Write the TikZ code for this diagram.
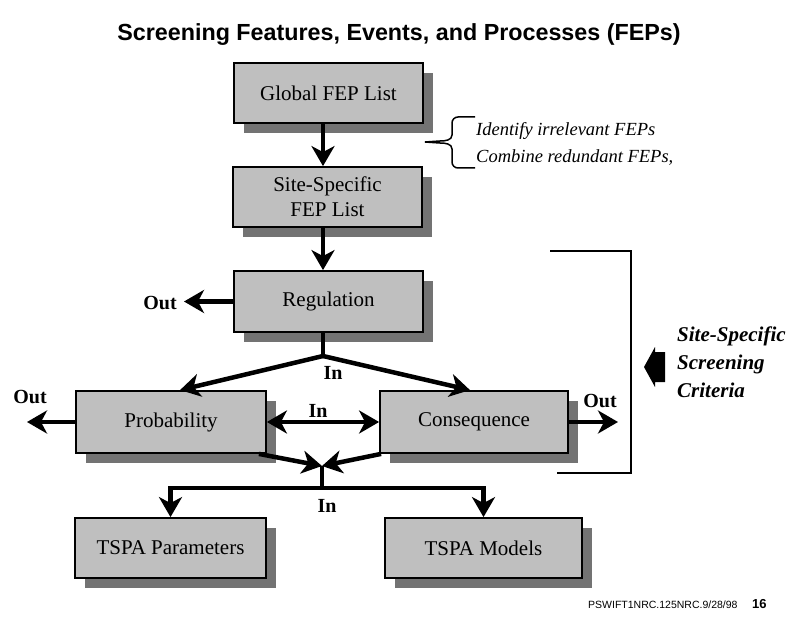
\documentclass[tikz,border=0pt]{standalone}
\usepackage{fontspec}
\setmainfont{Liberation Serif}
\newfontfamily\arialf{Liberation Sans}
\usetikzlibrary{arrows.meta,shadows}
\begin{document}
\begin{tikzpicture}[x=1pt,y=-1pt,
  box/.style={draw=black, line width=1.8pt, fill=black!25, minimum width=189pt, minimum height=60pt,
    inner sep=0pt, font=\fontsize{21}{25}\selectfont, align=center,
    drop shadow={shadow xshift=10pt, shadow yshift=-10pt, fill=black!55, opacity=1}},
  tipA/.tip={Stealth[length=20pt,width=23pt,inset=6pt]},
  arr/.style={line width=4.5pt, -tipA},
  ln/.style={line width=4.5pt},
  lab/.style={font=\bfseries\fontsize{20}{23}\selectfont, inner sep=0pt}]
\useasboundingbox (0,0) rectangle (793,623);

% title
\node[font=\arialf\bfseries\fontsize{23.3}{28}\selectfont, anchor=base, inner sep=0pt] (title) at (399,41)
  {Screening Features, Events, and Processes (FEPs)};

% boxes
\node[box] (g) at (328.5,93) {Global FEP List};
\node[box] (s) at (327.5,197) {Site-Specific\\FEP List};
\node[box, minimum height=61pt] (r) at (328.5,301.5) {Regulation};
\node[box, minimum width=190pt, minimum height=62pt] (p) at (171,422) {Probability};
\node[box, minimum width=188pt, minimum height=62pt] (c) at (474,422) {Consequence};
\node[box, minimum width=191pt] (tp) at (170.5,548) {TSPA Parameters};
\node[box, minimum width=197pt] (tm) at (483.5,548) {TSPA Models};

% vertical flow
\draw[arr] ([xshift=-5.5pt]g.south) -- ([xshift=-4.5pt]s.north);
\draw[arr] ([xshift=-4.5pt]s.south) -- ([xshift=-5.5pt]r.north);

% regulation split
\coordinate (split) at (323,356);
\draw[ln] ([xshift=-5.5pt]r.south) -- (split);
\draw[arr, line cap=round] (split) -- ([xshift=9pt]p.north);
\draw[arr, line cap=round] (split) -- ([xshift=-4pt]c.north);
\node[lab] (in1) at (333,373) {In};

% out arrows
\coordinate (ro) at (184,302);
\draw[arr] (r.west) -- (r.west -| ro);
\node[lab] (out1) at (160,303) {Out};
\coordinate (po) at (27,423);
\draw[arr] (p.west) -- (p.west -| po);
\node[lab] (out2) at (30,397) {Out};
\coordinate (co) at (618,423);
\draw[arr] (c.east) -- (c.east -| co);
\node[lab] (out3) at (600,401) {Out};

% probability <-> consequence
\draw[line width=4.5pt, tipA-tipA] (p.east) -- (c.west);
\node[lab] (in2) at (318,411) {In};

% convergence
\coordinate (j) at (322,466);
\coordinate (jb) at (322,488);
\draw[arr] ([xshift=-8pt]p.south east) -- (j);
\draw[arr] ([xshift=2pt]c.south west) -- (j);
\draw[ln] (j) -- (jb);
\draw[arr] (jb) -| (tp.north);
\draw[arr] (jb) -| (tm.north);
\node[lab] (in3) at (327,506) {In};

% bracket
\draw[line width=2.5pt] (550,251) -| (631,473) -- (557,473);

% block arrow
\fill (644,367) -- (655,347) -- (655,352) -- (665,352) -- (665,382) -- (655,382) -- (655,387) -- cycle;
\node[anchor=west, align=left, font=\bfseries\itshape\fontsize{21}{28}\selectfont, inner sep=0pt] (crit)
  at (677,362) {Site-Specific\\Screening\\Criteria};

% brace and notes
\draw[line width=1.5pt] (475,117) -- (458,117) to[out=180,in=90] (452,123) -- (452,135)
  to[out=-90,in=0] (440,141) -- (425,142) -- (440,143) to[out=0,in=90] (452,149) -- (452,162)
  to[out=-90,in=180] (458,168) -- (475,168);
\node[anchor=base west, font=\itshape\fontsize{18.5}{22}\selectfont, inner sep=0pt] (t1) at (476,136)
  {Identify irrelevant FEPs};
\node[anchor=base west, font=\itshape\fontsize{18.5}{22}\selectfont, inner sep=0pt] (t2) at (476,163)
  {Combine redundant FEPs,};

% footer
\node[anchor=base west, font=\arialf\fontsize{10.5}{12}\selectfont, inner sep=0pt] (foot) at (588,608)
  {PSWIFT1NRC.125NRC.9/28/98};
\node[anchor=base west, font=\arialf\bfseries\fontsize{13}{14}\selectfont, inner sep=0pt] (pg) at (752,608) {16};
\end{tikzpicture}
\end{document}
